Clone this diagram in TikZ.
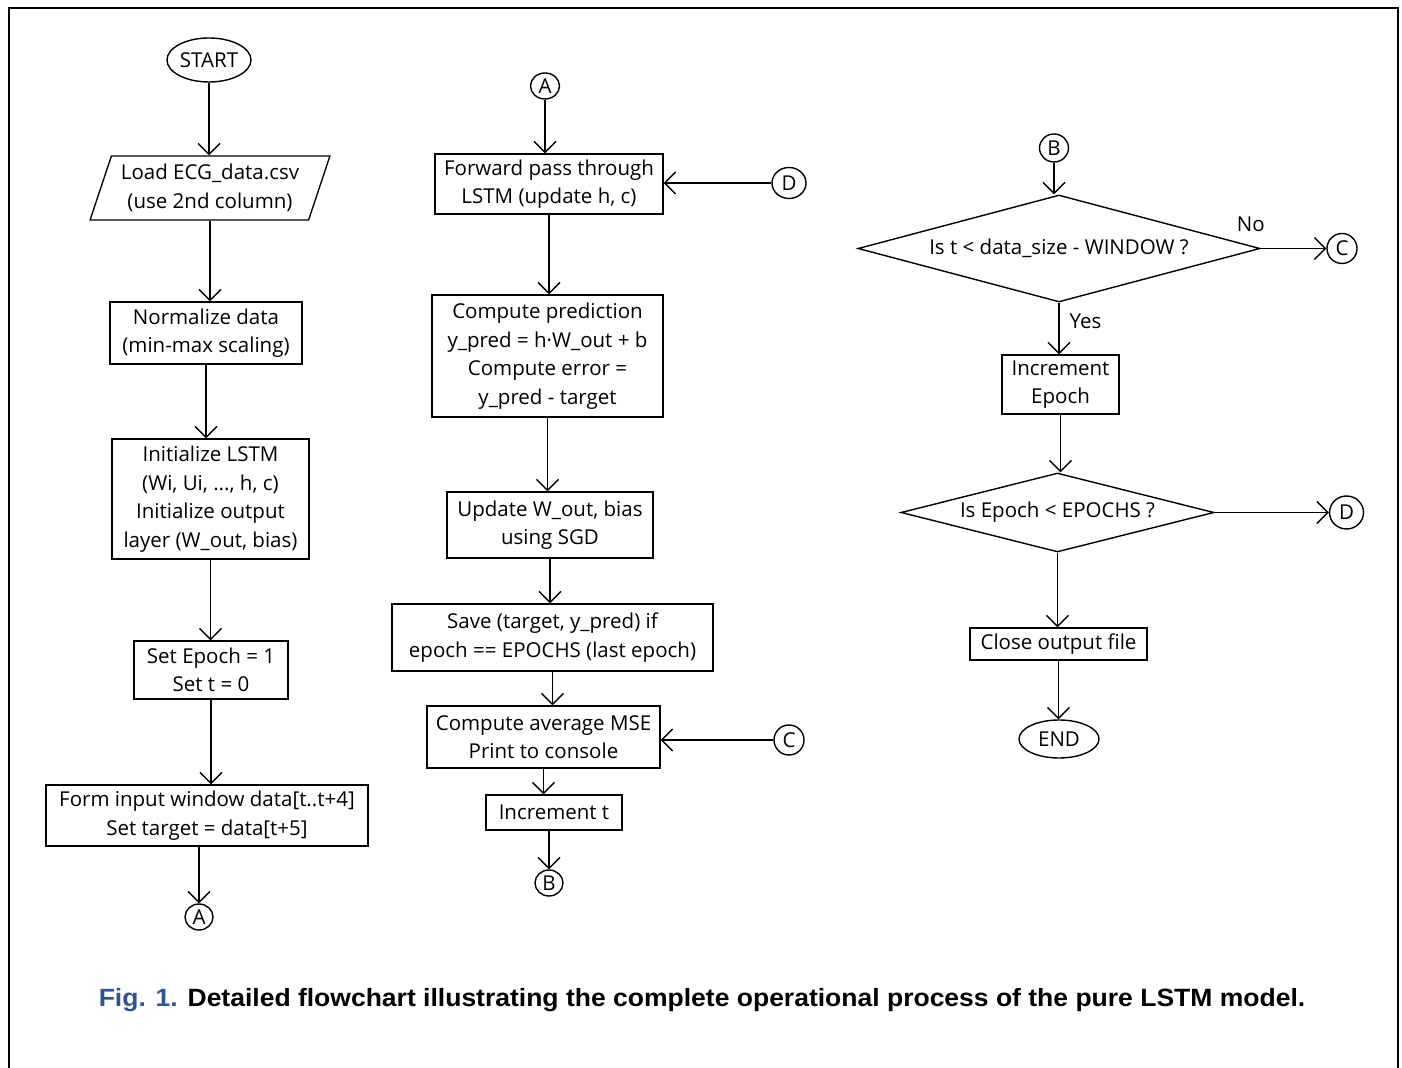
\documentclass[tikz,border=0pt]{standalone}
\usepackage{fontspec}
\setmainfont{Open Sans}
\newfontfamily\capfont{Liberation Sans}
\usetikzlibrary{arrows.meta,positioning,shapes.geometric}
\definecolor{figblue}{HTML}{2F5496}
\tikzset{
  stepbox/.style={draw=black,line width=0.7pt,fill=white,align=center,
                  inner sep=1pt,font=\fontsize{10.25}{14.25}\selectfont},
  ioshape/.style={stepbox,trapezium,trapezium left angle=69,
                  trapezium right angle=111,trapezium stretches=true},
  termshape/.style={stepbox,ellipse,inner sep=0pt},
  connshape/.style={stepbox,ellipse,inner sep=0pt,minimum width=14pt,minimum height=13pt},
  decshape/.style={stepbox,diamond,inner sep=0pt},
  flow/.style={-{Straight Barb[length=5.5pt,width=11pt]},line width=0.7pt},
  lbl/.style={font=\fontsize{10.25}{12}\selectfont,inner sep=1pt},
}

\begin{document}
\begin{tikzpicture}[x=0.5pt,y=-0.5pt]
\useasboundingbox (0,0) rectangle (1402,1068);
\draw[line width=1pt] (8.5,1068) -- (8.5,8.5) -- (1397.5,8.5) -- (1397.5,1068);

% left column: data preparation
\node[termshape, minimum width=42pt, minimum height=22pt] (start) at (209,60) {START};
\node[ioshape, minimum width=120pt, minimum height=32pt] (load) at (210,188)
  {Load ECG\_data.csv\\(use 2nd column)};
\node[stepbox, minimum width=96pt, minimum height=31pt] (norm) at (206,333)
  {Normalize data\\(min-max scaling)};
\node[stepbox, minimum width=98.5pt, minimum height=60pt] (init) at (210.5,499)
  {Initialize LSTM\\(Wi, Ui, ..., h, c)\\Initialize output\\layer (W\_out, bias)};
\node[stepbox, minimum width=77pt, minimum height=29pt] (setep) at (211,670)
  {Set Epoch = 1\\Set t = 0};
\node[stepbox, minimum width=161pt, minimum height=30.5pt] (window) at (207,815.5)
  {Form input window data[t..t+4]\\Set target = data[t+5]};
\node[connshape] (aOut) at (199,917) {A};

% middle column: one training step
\node[connshape, minimum width=14.5pt] (aIn) at (545,86) {A};
\node[stepbox, minimum width=114pt, minimum height=30pt] (fwd) at (549,184)
  {Forward pass through\\LSTM (update h, c)};
\node[connshape, minimum width=17pt, minimum height=15.5pt] (dIn) at (789,183) {D};
\node[stepbox, minimum width=115.5pt, minimum height=61pt] (pred) at (547.5,356)
  {Compute prediction\\y\_pred = h·W\_out + b\\Compute error =\\y\_pred - target};
\node[stepbox, minimum width=103pt, minimum height=33pt] (sgd) at (550,525)
  {Update W\_out, bias\\using SGD};
\node[stepbox, minimum width=160.5pt, minimum height=33.5pt] (save) at (552.5,637.5)
  {Save (target, y\_pred) if\\epoch == EPOCHS (last epoch)};
\node[stepbox, minimum width=116.5pt, minimum height=31pt] (mse) at (543.5,737)
  {Compute average MSE\\Print to console};
\node[connshape, minimum width=15pt, minimum height=15pt] (cIn) at (789,740) {C};
\node[stepbox, minimum width=68pt, minimum height=17.5pt] (inct) at (554,812.5) {Increment t};
\node[connshape] (bOut) at (549,883) {B};

% right column: loop checks
\node[connshape, minimum width=14.5pt, minimum height=14pt] (bIn) at (1054,148) {B};
\node[decshape, aspect=3.76, minimum width=201pt, minimum height=53.5pt] (tcheck)
  at (1059,248.5) {Is t < data\_size - WINDOW ?};
\node[connshape, minimum width=15pt, minimum height=15pt] (cOut) at (1342,248.5) {C};
\node[lbl, above=7pt of tcheck.east, xshift=-5pt] (noLbl) {No};
\node[stepbox, minimum width=58.5pt, minimum height=29.5pt] (incep) at (1060.5,384.5)
  {Increment\\Epoch};
\node[decshape, aspect=3.96, minimum width=156.5pt, minimum height=39.5pt] (epcheck)
  at (1057.5,512.5) {Is Epoch < EPOCHS ?};
\node[connshape, minimum width=17pt, minimum height=16.5pt] (dOut) at (1346.5,512.5) {D};
\node[stepbox, minimum width=88.5pt, minimum height=16pt] (close) at (1058.5,644)
  {Close output file};
\node[termshape, minimum width=40pt, minimum height=19pt] (stop) at (1059,739) {END};

\draw[flow] (start.south) -- (start.south |- load.north);
\draw[flow] (load.south) -- (load.south |- norm.north);
\draw[flow] (norm.south) -- (norm.south |- init.north);
\draw[flow] (init.south) -- (init.south |- setep.north);
\draw[flow] (setep.south) -- (setep.south |- window.north);
\draw[flow] (window.south -| aOut) -- (aOut);

\draw[flow] (aIn.south) -- (aIn.south |- fwd.north);
\draw[flow] (dIn.west) -- (dIn.west -| fwd.east);
\draw[flow] (fwd.south) -- (fwd.south |- pred.north);
\draw[flow] (pred.south) -- (pred.south |- sgd.north);
\draw[flow] (sgd.south) -- (sgd.south |- save.north);
\draw[flow] (save.south) -- (save.south |- mse.north);
\draw[flow] (cIn.west) -- (cIn.west -| mse.east);
\draw[flow] (mse.south) -- (mse.south |- inct.north);
\draw[flow] (inct.south -| bOut) -- (bOut);

\draw[flow] (bIn.south) -- (bIn.south |- tcheck.north);
\draw[flow] (tcheck.east) -- (cOut);
\draw[flow] (tcheck.south) -- node[lbl, right=4pt, pos=0.36] (yesLbl) {Yes}
  (tcheck.south |- incep.north);
\draw[flow] (incep.south) -- (incep.south |- epcheck.north);
\draw[flow] (epcheck.east) -- (dOut);
\draw[flow] (epcheck.south) -- (epcheck.south |- close.north);
\draw[flow] (close.south) -- (close.south |- stop.north);

\node[font=\capfont\bfseries\fontsize{12.5}{15}\selectfont] (caption) at (702,1000)
  {\scalebox{1.06}[1]{\textcolor{figblue}{Fig. 1.} Detailed flowchart illustrating the complete operational process of the pure LSTM model.}};

\end{tikzpicture}
\end{document}
